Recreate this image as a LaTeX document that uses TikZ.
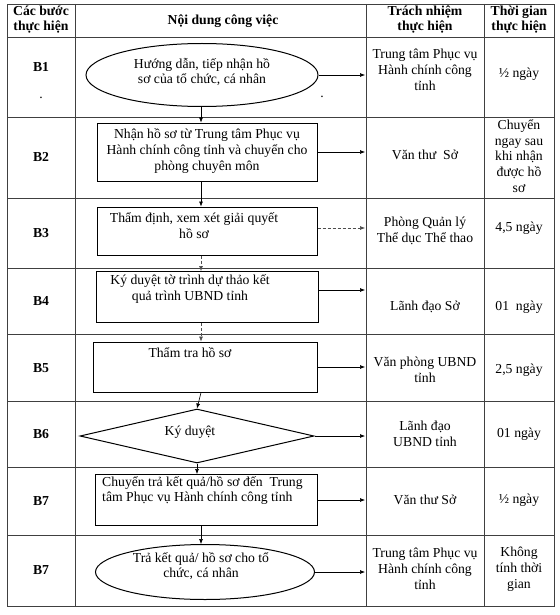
\documentclass[tikz,border=0pt]{standalone}
\usepackage{fontspec}
\setmainfont{Liberation Serif}
\usetikzlibrary{arrows.meta,shapes.geometric}
\begin{document}
\begin{tikzpicture}[x=1pt,y=-1pt,
  txt/.style={font=\fontsize{13.7}{15.8}\selectfont, align=center, inner sep=0pt},
  hdr/.style={font=\fontsize{13.7}{15}\selectfont\bfseries, align=center, inner sep=0pt},
  lbl/.style={font=\fontsize{13.7}{15}\selectfont\bfseries, inner sep=0pt},
  grid/.style={draw=black!75, line width=0.8pt},
  shp/.style={draw=black, line width=1pt, inner sep=0pt},
  arr/.style={-{Latex[length=5pt,width=4pt]}, line width=0.6pt},
  darr/.style={arr, densely dashed, draw=black!70},
]
\useasboundingbox (0,0) rectangle (559,615);
% table grid
\draw[grid] (7,4) rectangle (554,606);
\foreach \x in {75,366,484} \draw[grid] (\x,4) -- (\x,606);
\foreach \y in {37,117,198,268,334,401,467,535} \draw[grid] (7,\y) -- (554,\y);
% header
\node[hdr] (h1) at (41,20) {Các bước\\thực hiện};
\node[hdr] (h2) at (223,21) {Nội dung công việc};
\node[hdr] (h3) at (425,20) {Trách nhiệm\\thực hiện};
\node[hdr] (h4) at (519,20) {Thời gian\\thực hiện};
% step labels
\node[lbl] (s1) at (41,67) {B1};
\node[txt, anchor=base] (s1dot) at (41,99) {.};
\node[lbl] (s2) at (41,157) {B2};
\node[lbl] (s3) at (41,233) {B3};
\node[lbl] (s4) at (41,301) {B4};
\node[lbl] (s5) at (41,368) {B5};
\node[lbl] (s6) at (41,434) {B6};
\node[lbl] (s7) at (41,501) {B7};
\node[lbl] (s8) at (41,570) {B7};
% shapes
\node[shp, ellipse, minimum width=232, minimum height=63] (e1) at (202,75) {};
\node[txt] (t1) at (202,72) {Hướng dẫn, tiếp nhận hồ\\sơ của tổ chức, cá nhân};
\node[txt, anchor=base] (dot2) at (322,98) {.};
\node[shp, minimum width=220, minimum height=58] (b2) at (207,152) {};
\node[txt] (t2) at (207,151) {Nhận hồ sơ từ Trung tâm Phục vụ\\Hành chính công tỉnh và chuyển cho\\phòng chuyên môn};
\node[shp, minimum width=220, minimum height=48] (b3) at (207,231) {};
\node[txt] (t3) at (194,226) {Thẩm định, xem xét giải quyết\\hồ sơ};
\node[shp, minimum width=222, minimum height=51] (b4) at (207,297) {};
\node[txt] (t4) at (190,289) {Ký duyệt tờ trình dự thảo kết\\quả trình UBND tỉnh};
\node[shp, minimum width=224, minimum height=50] (b5) at (205,367) {};
\node[txt] (t5) at (190,353) {Thẩm tra hồ sơ};
\node[shp, diamond, minimum width=234, minimum height=54] (d6) at (197,436) {};
\node[txt] (t6) at (190,432) {Ký duyệt};
\node[shp, minimum width=222, minimum height=51] (b7) at (206,500) {};
\node[txt, align=left, anchor=north west] (t7) at (102,476) {Chuyển trả kết quả/hồ sơ đến\ \ Trung\\tâm Phục vụ Hành chính công tỉnh};
\node[shp, ellipse, minimum width=219, minimum height=55] (e8) at (205,572) {};
\node[txt] (t8) at (201,566) {Trả kết quả/ hồ sơ cho tổ\\chức, cá nhân};
% spine and right column reference
\coordinate (sp) at (201,0);
\coordinate (rc) at (365,0);
% vertical arrows
\draw[arr] (e1.south -| sp) -- (b2.north -| sp);
\draw[arr] (b2.south -| sp) -- (b3.north -| sp);
\draw[darr] (b3.south -| sp) -- (b4.north -| sp);
\draw[darr] (b4.south -| sp) -- (b5.north -| sp);
\draw[arr] (b5.south -| sp) -- (d6.north);
\draw[arr] (d6.south) -- (b7.north -| d6.south);
\draw[arr] (b7.south -| sp) -- (e8.north -| sp);
% horizontal arrows
\draw[arr] (e1.east) -- (e1.east -| rc);
\draw[arr] (b2.east) -- (b2.east -| rc);
\draw[darr] ([yshift=3pt]b3.east) -- ([yshift=3pt]b3.east -| rc);
\draw[arr] ([yshift=7pt]b4.east) -- ([yshift=7pt]b4.east -| rc);
\draw[arr] (b5.east) -- (b5.east -| rc);
\draw[arr] (d6.east) -- (d6.east -| rc);
\draw[arr] (b7.east) -- (b7.east -| rc);
\draw[arr] (e8.east) -- (e8.east -| rc);
% responsibility column
\node[txt] (r1) at (425,70) {Trung tâm Phục vụ\\Hành chính công\\tỉnh};
\node[txt] (r2) at (425,155) {Văn thư\ \ Sở};
\node[txt] (r3) at (425,231) {Phòng Quản lý\\Thể dục Thể thao};
\node[txt] (r4) at (425,307) {Lãnh đạo Sở};
\node[txt] (r5) at (425,370) {Văn phòng UBND\\tỉnh};
\node[txt] (r6) at (425,434) {Lãnh đạo\\UBND tỉnh};
\node[txt] (r7) at (425,500) {Văn thư Sở};
\node[txt] (r8) at (425,569) {Trung tâm Phục vụ\\Hành chính công\\tỉnh};
% time column
\node[txt] (w1) at (519,74) {½ ngày};
\node[txt] (w2) at (519,156) {Chuyển\\ngay sau\\khi nhận\\được hồ\\sơ};
\node[txt] (w3) at (519,228) {4,5 ngày};
\node[txt] (w4) at (519,307) {01\ \ ngày};
\node[txt] (w5) at (519,370) {2,5 ngày};
\node[txt] (w6) at (519,434) {01 ngày};
\node[txt] (w7) at (519,500) {½ ngày};
\node[txt] (w8) at (519,569) {Không\\tính thời\\gian};
\end{tikzpicture}
\end{document}
